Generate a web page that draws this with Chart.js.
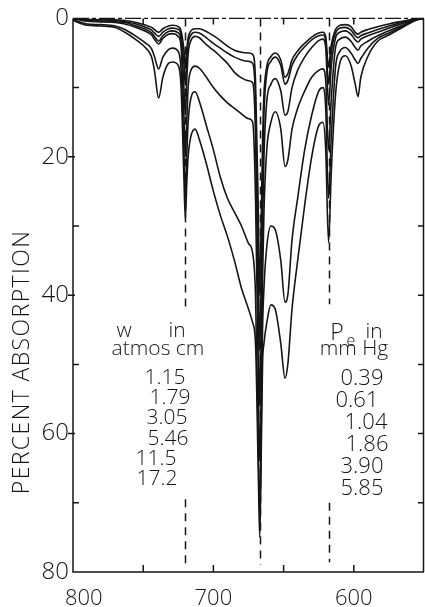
<!DOCTYPE html>
<html>
<head>
<meta charset="utf-8">
<script src="https://cdn.jsdelivr.net/npm/chart.js@4.4.1/dist/chart.umd.min.js"></script>
<style>
  html, body { margin: 0; padding: 0; background: #ffffff; }
  canvas { display: block; }
</style>
</head>
<body>
<canvas id="spectrum" width="425" height="607"></canvas>
<script>
// Wavenumber grid (cm^-1), shared by all six absorption traces
const wavenumbers = [800, 790, 780, 770, 763, 755, 748, 744, 742, 739, 736, 732, 729, 725, 723, 721, 720, 719, 718, 716,
  713, 710, 705, 700, 695, 690, 685, 680, 675, 672, 670, 668, 667, 666, 665, 664, 662, 659, 656, 652,
  649, 647, 644, 640, 635, 630, 625, 622, 620, 618, 616, 613, 610, 606, 602, 599, 597, 595, 590, 583,
  575, 568, 560, 556, 550];

// Percent absorption for each optical path w (atmos cm)
const absW115 = [0, 0.1, 0.2, 0.2, 0.3, 0.6, 1.0, 1.3, 1.6, 2.0, 1.5, 1.1, 1.0, 1.2, 1.8, 4.5, 7, 4.5, 2.8, 1.8,
  1.5, 1.5, 1.9, 2.5, 3.2, 4.0, 4.6, 4.9, 5.0, 5.2, 9, 28, 40, 30, 18, 11, 7, 5.5, 5.0, 6.0,
  8.5, 8.0, 6.0, 4.7, 3.6, 2.7, 2.1, 2.0, 2.6, 7, 3.8, 1.6, 1.0, 0.9, 1.2, 2.0, 2.3, 2.0, 1.6, 1.2,
  0.8, 0.5, 0.2, 0, 0];
const absW179 = [0, 0.2, 0.2, 0.3, 0.5, 0.8, 1.3, 1.7, 2.1, 2.6, 2.0, 1.5, 1.4, 1.6, 2.4, 6.5, 9.7, 6, 3.6, 2.4,
  2.0, 2.1, 2.8, 3.6, 4.3, 5.0, 5.6, 6.0, 6.2, 6.5, 12, 36, 48, 38, 24, 14, 8, 6.2, 5.6, 6.8,
  9.5, 9.0, 6.8, 5.3, 4.1, 3.1, 2.5, 2.4, 3.2, 9.5, 4.8, 2.1, 1.4, 1.3, 1.7, 2.5, 2.8, 2.5, 2.1, 1.6,
  1.1, 0.7, 0.3, 0.05, 0];
const absW305 = [0, 0.3, 0.4, 0.5, 0.6, 1.1, 1.6, 2.1, 2.6, 3.3, 2.5, 1.9, 1.8, 2.1, 3.2, 10, 14, 9, 5.2, 3.2,
  2.6, 2.8, 3.8, 4.6, 5.5, 6.5, 7.8, 8.6, 9.0, 9.3, 17, 44, 56, 46, 30, 20, 12, 9.5, 8.7, 10.5,
  14, 13.5, 10, 7.5, 5.6, 4.2, 3.2, 3.0, 4.2, 12.5, 6.8, 2.8, 2.0, 1.8, 2.3, 3.1, 3.4, 3.0, 2.5, 2.0,
  1.4, 0.9, 0.4, 0.1, 0];
const absW546 = [0, 0.4, 0.5, 0.6, 0.8, 1.3, 1.9, 2.4, 3.0, 3.7, 2.9, 2.3, 2.2, 2.6, 4.2, 14, 20, 15, 10, 7.5,
  6.9, 7.2, 8.5, 10, 11.2, 12.2, 13, 13.8, 14.5, 15, 26, 52, 64, 55, 38, 28, 19, 15, 13.5, 16,
  21.4, 20.5, 16, 13, 10.5, 8.5, 7.5, 7.3, 9, 19, 11.5, 4.2, 3.0, 2.7, 3.3, 4.2, 4.6, 4.0, 3.3, 2.5,
  1.8, 1.2, 0.5, 0.1, 0];
const absW115b = [0.2, 0.8, 0.9, 1.1, 1.6, 2.6, 3.6, 4.4, 5.5, 7.3, 5.6, 4.5, 4.3, 4.8, 7.5, 19, 26, 20, 15, 11.5,
  10.6, 12, 15.5, 19, 23, 26, 28, 30, 32.5, 34, 40, 62, 72, 60, 45, 39, 33, 30, 30.5, 35,
  41, 40, 32, 26, 19, 14, 10.5, 10, 13, 26, 17, 7, 4.8, 4.2, 5.0, 6.0, 6.5, 5.8, 4.3, 2.9,
  2.1, 1.4, 0.6, 0.2, 0];
const absW172 = [0.3, 1.0, 1.1, 1.3, 2.0, 3.1, 4.3, 5.6, 7.5, 11.5, 8.5, 6.5, 6.3, 6.8, 10, 23, 29, 24, 20, 17,
  16, 17.5, 21, 25, 28.5, 31.5, 35, 39, 42, 44, 47, 66, 75, 64, 50, 47, 44, 41.4, 42, 47,
  52, 50, 42, 35, 27, 20, 15.5, 15, 19, 32.4, 22, 11, 6.5, 5.4, 6.8, 9.5, 11.3, 8.5, 5.5, 3.3,
  2.4, 1.6, 0.7, 0.3, 0];

const traces = [absW115, absW179, absW305, absW546, absW115b, absW172];

// Legend columns: optical path and equivalent pressure of each trace
const pathLengths = ['1.15', '1.79', '3.05', '5.46', '11.5', '17.2'];
const pressures = ['0.39', '0.61', '1.04', '1.86', '3.90', '5.85'];

// Axis ticks and CO2 band centres marked with dashed lines
const xTickValues = [800, 700, 600];
const xMinorTicks = [750, 700, 650, 600];
const yTickValues = [0, 20, 40, 60, 80];
const bandCenters = [720, 667, 618];

const FONT = '"Open Sans", "DejaVu Sans", sans-serif';
const INK = '#151515';

function drawText(ctx, s, x, y, size, align) {
  ctx.font = '300 ' + size + 'px ' + FONT;
  ctx.textAlign = align || 'center';
  ctx.textBaseline = 'alphabetic';
  ctx.fillText(s, x, y);
}

// Dashed markers at the band centres, drawn beneath the traces
const bandMarkers = {
  id: 'bandMarkers',
  beforeDatasetsDraw(chart) {
    const { ctx, scales: { x, y } } = chart;
    const spans = [[[0, 42], [69.5, 79]], [[0, 79]], [[0, 41.3], [70, 78.6]]];
    ctx.save();
    ctx.strokeStyle = INK;
    ctx.lineWidth = 1.5;
    ctx.setLineDash([8, 6]);
    bandCenters.forEach((wn, i) => {
      const px = Math.round(x.getPixelForValue(wn)) + 0.5;
      spans[i].forEach(([a, b]) => {
        ctx.beginPath();
        ctx.moveTo(px, y.getPixelForValue(a));
        ctx.lineTo(px, y.getPixelForValue(b));
        ctx.stroke();
      });
    });
    ctx.restore();
  }
};

// Frame, inward tick marks, x labels, axis title and the two legend columns
const frameAndNotes = {
  id: 'frameAndNotes',
  afterDraw(chart) {
    const { ctx, chartArea: a, scales: { x, y } } = chart;
    ctx.save();
    ctx.strokeStyle = INK;
    ctx.fillStyle = INK;
    ctx.lineWidth = 1.5;

    // left, bottom, right sides
    ctx.beginPath();
    ctx.moveTo(a.left, a.top);
    ctx.lineTo(a.left, a.bottom);
    ctx.lineTo(a.right, a.bottom);
    ctx.moveTo(a.right - 0.5, a.top);
    ctx.lineTo(a.right - 0.5, a.bottom);
    ctx.stroke();
    // top side, broken as on the original plate
    ctx.save();
    ctx.lineWidth = 1.2;
    ctx.setLineDash([16, 3, 4, 3]);
    ctx.beginPath();
    ctx.moveTo(a.left, a.top);
    ctx.lineTo(a.right, a.top);
    ctx.stroke();
    ctx.restore();

    // y ticks every 10 %
    ctx.beginPath();
    for (let v = 10; v < 80; v += 10) {
      const py = y.getPixelForValue(v);
      if (v % 20 === 0) { ctx.moveTo(a.left - 5, py); ctx.lineTo(a.left + 2, py); }
      else { ctx.moveTo(a.left, py); ctx.lineTo(a.left + 6, py); }
      ctx.moveTo(a.right - 6, py); ctx.lineTo(a.right, py);
    }
    // x ticks every 50 cm^-1, top and bottom
    xMinorTicks.forEach(v => {
      const px = x.getPixelForValue(v);
      ctx.moveTo(px, a.top); ctx.lineTo(px, a.top + 6);
      ctx.moveTo(px, a.bottom); ctx.lineTo(px, a.bottom - 7);
    });
    ctx.stroke();

    // x tick labels, kept from running past the left edge
    ctx.font = '300 22px ' + FONT;
    xTickValues.forEach(v => {
      const s = String(v);
      const w = ctx.measureText(s).width;
      let cx = x.getPixelForValue(v);
      if (cx - w / 2 < a.left - 8) cx = a.left - 8 + w / 2;
      drawText(ctx, s, cx, 605, 22);
    });

    // axis title
    ctx.save();
    ctx.translate(29, 362);
    ctx.rotate(-Math.PI / 2);
    const title = 'PERCENT ABSORPTION';
    ctx.font = '300 23px ' + FONT;
    const tw = ctx.measureText(title).width;
    ctx.letterSpacing = ((263 - tw) / (title.length - 1)).toFixed(2) + 'px';
    drawText(ctx, title, 0, 0, 23);
    ctx.restore();

    // legend: optical path
    drawText(ctx, 'w', 124, 337, 21);
    drawText(ctx, 'in', 177, 337, 21);
    drawText(ctx, 'atmos cm', 158, 355, 21);
    const leftX = [165, 170, 167, 168, 156, 157];
    pathLengths.forEach((s, i) => drawText(ctx, s, leftX[i], 384 + i * 20.2, 21));

    // legend: equivalent pressure
    drawText(ctx, 'P', 337, 340, 23);
    drawText(ctx, 'e', 351, 346, 16);
    drawText(ctx, 'in', 374, 338, 21);
    drawText(ctx, 'mm Hg', 354, 355, 21);
    const rightX = [362, 357, 366, 367, 362, 362];
    pressures.forEach((s, i) => drawText(ctx, s, rightX[i], 385 + i * 22, 22));

    ctx.restore();
  }
};

const datasets = traces.map((vals, i) => ({
  label: 'w = ' + pathLengths[i] + ' atmos cm',
  data: wavenumbers.map((wn, k) => ({ x: wn, y: vals[k] })),
  borderColor: INK,
  borderWidth: 1.6,
  pointRadius: 0,
  fill: false,
  cubicInterpolationMode: 'monotone'
}));

new Chart(document.getElementById('spectrum'), {
  type: 'line',
  data: { datasets },
  options: {
    responsive: false,
    animation: false,
    devicePixelRatio: 1,
    layout: { padding: { top: 14, right: 1, left: 0, bottom: 0 } },
    plugins: { legend: { display: false }, tooltip: { enabled: false } },
    scales: {
      x: {
        type: 'linear',
        min: 550,
        max: 800,
        reverse: true,
        grid: { display: false, drawTicks: false },
        border: { display: false },
        ticks: { display: false },
        afterFit(scale) { scale.height = 35; }
      },
      y: {
        type: 'linear',
        min: 0,
        max: 80,
        reverse: true,
        grid: { display: false, drawTicks: false },
        border: { display: false },
        afterBuildTicks(scale) { scale.ticks = yTickValues.map(v => ({ value: v })); },
        ticks: {
          padding: 4,
          color: INK,
          font: { family: FONT, size: 24, weight: 300 },
          callback: v => String(v)
        },
        afterFit(scale) { scale.width = 73; }
      }
    }
  },
  plugins: [bandMarkers, frameAndNotes]
});
</script>
</body>
</html>
